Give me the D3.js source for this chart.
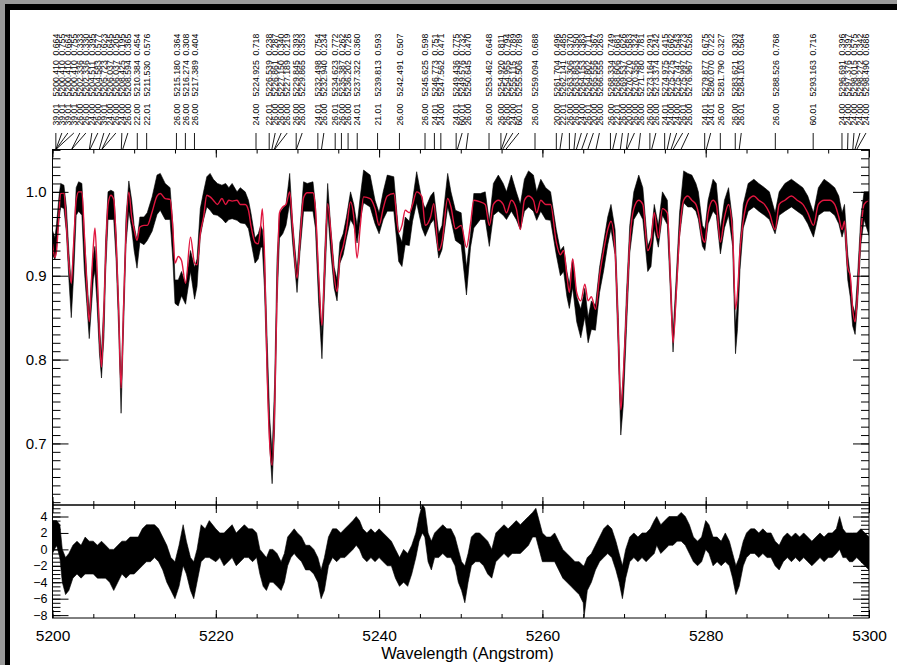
<!DOCTYPE html>
<html>
<head>
<meta charset="utf-8">
<script src="https://cdn.jsdelivr.net/npm/d3@7"></script>
<style>
  body { margin: 0; background: #ffffff; }
  svg { display: block; }
  text { font-family: "Liberation Sans", Arial, Helvetica, sans-serif; }
</style>
</head>
<body>
<svg id="chart" width="897" height="665"></svg>
<script>
// ---- Spectrum: node wavelengths (Angstrom) with synthetic model flux and the
// ---- lower / upper envelope of the noisy observed flux.
const wavelength = [
  5200.0,5200.3,5200.5,5200.8,5201.0,5201.4,5201.7,5202.0,5202.3,5202.6,
  5202.9,5203.2,5203.6,5203.9,5204.2,5204.5,5204.8,5205.0,5205.2,5205.45,
  5205.75,5206.0,5206.3,5206.5,5206.8,5207.15,5207.5,5207.8,5208.1,5208.4,
  5208.7,5209.0,5209.35,5209.7,5210.0,5210.35,5210.7,5211.2,5211.6,5212.2,
  5212.8,5213.2,5213.8,5214.4,5214.75,5215.0,5215.4,5215.8,5216.3,5216.9,
  5217.4,5217.7,5218.1,5218.5,5218.9,5219.3,5219.7,5220.2,5220.75,5221.2,
  5221.6,5222.0,5222.6,5223.0,5223.6,5224.0,5224.3,5224.8,5225.2,5225.5,
  5225.7,5225.95,5226.3,5226.6,5226.9,5227.2,5227.5,5227.8,5228.2,5228.6,
  5229.05,5229.4,5229.95,5230.3,5230.75,5231.2,5231.9,5232.2,5232.6,5233.0,
  5233.3,5233.7,5234.1,5234.5,5234.85,5235.2,5235.6,5236.0,5236.5,5236.9,
  5237.3,5237.7,5238.1,5238.9,5239.5,5240.0,5240.5,5241.0,5241.8,5242.4,
  5242.8,5243.2,5243.7,5244.1,5244.6,5245.25,5245.65,5246.3,5246.7,5247.3,
  5247.7,5248.4,5248.8,5249.35,5250.05,5250.7,5251.2,5251.6,5252.4,5253.0,
  5253.5,5254.0,5254.6,5255.2,5255.6,5256.2,5256.8,5257.3,5257.8,5258.3,
  5258.9,5259.3,5259.8,5260.4,5261.0,5261.7,5262.2,5262.6,5263.0,5263.3,
  5263.7,5264.2,5264.7,5265.2,5265.6,5266.0,5266.5,5267.0,5267.5,5268.0,
  5268.4,5268.9,5269.3,5269.6,5269.9,5270.3,5270.7,5271.2,5271.8,5272.3,
  5272.9,5273.3,5273.7,5274.2,5274.7,5275.3,5275.7,5276.0,5276.4,5276.8,
  5277.3,5277.8,5278.3,5278.8,5279.1,5279.6,5279.9,5280.3,5280.9,5281.3,
  5281.8,5282.3,5282.8,5283.3,5283.65,5283.9,5284.2,5284.6,5285.2,5285.9,
  5286.5,5287.2,5287.8,5288.5,5289.0,5289.7,5290.5,5291.2,5291.9,5292.5,
  5293.2,5293.8,5294.5,5295.2,5295.8,5296.3,5296.7,5297.0,5297.4,5297.7,
  5298.0,5298.3,5298.6,5299.0,5299.4,5300.0
];
const modelFlux = [
  0.938,0.922,0.930,0.975,0.998,0.999,0.960,0.915,0.891,0.940,
  0.990,1.000,1.000,0.950,0.890,0.845,0.900,0.935,0.957,0.910,
  0.830,0.791,0.860,0.920,0.985,0.996,0.991,0.940,0.860,0.766,
  0.860,0.950,1.000,0.970,0.955,0.942,0.958,0.960,0.960,0.976,
  0.995,0.998,0.992,0.991,0.955,0.915,0.923,0.918,0.891,0.946,
  0.915,0.913,0.950,0.970,0.996,0.994,0.990,0.985,0.992,0.985,
  0.990,0.989,0.990,0.985,0.985,0.978,0.960,0.940,0.938,0.960,
  0.980,0.930,0.780,0.700,0.674,0.740,0.880,0.975,0.982,0.985,
  1.000,0.960,0.897,0.940,0.993,0.999,0.999,0.980,0.900,0.841,
  0.900,0.986,0.950,0.900,0.881,0.920,0.935,0.955,0.988,0.970,
  0.921,0.960,0.994,0.992,0.980,0.960,0.980,0.995,0.998,0.952,
  0.960,0.978,0.975,0.985,1.000,0.994,0.960,0.970,0.986,0.930,
  0.940,0.992,0.982,0.956,0.960,0.934,0.962,0.990,0.988,0.985,
  0.960,0.985,0.990,0.985,0.975,0.990,0.980,0.955,0.990,0.995,
  0.990,0.975,0.990,0.985,0.985,0.940,0.925,0.930,0.900,0.880,
  0.920,0.880,0.870,0.890,0.870,0.875,0.860,0.900,0.930,0.955,
  0.965,0.930,0.830,0.740,0.780,0.860,0.940,0.980,0.990,0.985,
  0.930,0.940,0.975,0.945,0.980,0.975,0.890,0.820,0.880,0.950,
  0.990,0.995,0.990,0.985,0.975,0.945,0.940,0.975,0.990,0.985,
  0.940,0.970,0.985,0.950,0.860,0.880,0.930,0.965,0.990,0.995,
  0.990,0.985,0.975,0.955,0.985,0.990,0.995,0.990,0.985,0.975,
  0.960,0.985,0.990,0.990,0.985,0.970,0.955,0.965,0.910,0.900,
  0.860,0.845,0.880,0.950,0.985,0.990
];
const obsLow = [
  0.925,0.919,0.934,0.967,0.982,0.980,0.952,0.897,0.850,0.902,
  0.972,0.977,0.972,0.907,0.867,0.825,0.867,0.896,0.906,0.867,
  0.807,0.778,0.827,0.902,0.967,0.967,0.967,0.917,0.837,0.736,
  0.837,0.937,0.977,0.956,0.930,0.909,0.940,0.937,0.942,0.953,
  0.973,0.978,0.967,0.967,0.917,0.867,0.864,0.876,0.866,0.905,
  0.872,0.887,0.947,0.967,0.982,0.978,0.973,0.972,0.968,0.963,
  0.967,0.968,0.966,0.963,0.962,0.956,0.941,0.915,0.920,0.934,
  0.934,0.887,0.777,0.697,0.652,0.717,0.867,0.945,0.950,0.960,
  0.987,0.940,0.880,0.927,0.977,0.977,0.977,0.957,0.867,0.801,
  0.877,0.977,0.926,0.885,0.870,0.915,0.925,0.945,0.967,0.960,
  0.939,0.967,0.987,0.982,0.962,0.950,0.967,0.977,0.977,0.917,
  0.911,0.937,0.936,0.965,0.987,0.957,0.947,0.962,0.967,0.921,
  0.931,0.982,0.967,0.942,0.937,0.877,0.934,0.957,0.967,0.967,
  0.935,0.972,0.977,0.972,0.967,0.977,0.967,0.955,0.977,0.982,
  0.977,0.966,0.977,0.967,0.966,0.925,0.900,0.905,0.875,0.861,
  0.886,0.845,0.826,0.851,0.820,0.836,0.835,0.880,0.906,0.937,
  0.956,0.925,0.807,0.710,0.745,0.837,0.927,0.967,0.977,0.967,
  0.905,0.911,0.956,0.934,0.972,0.961,0.875,0.809,0.877,0.947,
  0.987,0.982,0.982,0.977,0.967,0.935,0.930,0.962,0.977,0.972,
  0.926,0.957,0.972,0.935,0.807,0.837,0.907,0.957,0.977,0.982,
  0.977,0.972,0.967,0.950,0.972,0.977,0.982,0.977,0.972,0.962,
  0.946,0.972,0.977,0.977,0.972,0.962,0.946,0.957,0.895,0.875,
  0.840,0.830,0.867,0.937,0.967,0.948
];
const obsHigh = [
  0.954,0.945,0.962,0.995,1.010,1.008,0.982,0.930,0.887,0.940,
  1.005,1.012,1.010,0.950,0.900,0.855,0.900,0.925,0.935,0.900,
  0.840,0.806,0.870,0.940,1.000,1.002,1.000,0.950,0.870,0.768,
  0.870,0.970,1.013,0.990,0.960,0.942,0.970,0.970,0.975,0.994,
  1.020,1.022,1.010,1.005,0.960,0.895,0.895,0.905,0.890,0.930,
  0.910,0.920,0.980,1.000,1.018,1.022,1.015,1.010,1.008,1.010,
  1.005,1.010,1.000,1.005,1.000,0.990,0.975,0.945,0.950,0.960,
  0.955,0.930,0.820,0.730,0.688,0.770,0.920,0.975,0.980,0.985,
  1.022,0.965,0.905,0.955,1.012,1.010,1.012,0.985,0.900,0.830,
  0.920,1.010,0.955,0.910,0.895,0.940,0.950,0.970,1.000,0.985,
  0.960,0.995,1.026,1.020,0.990,0.975,1.000,1.020,1.018,0.950,
  0.940,0.970,0.965,0.990,1.024,0.990,0.980,0.995,1.000,0.950,
  0.960,1.022,1.000,0.978,0.975,0.910,0.950,0.998,0.998,1.000,
  0.965,1.010,1.020,1.010,1.000,1.020,1.000,0.985,1.015,1.025,
  1.020,1.000,1.015,1.005,1.000,0.955,0.930,0.935,0.905,0.890,
  0.920,0.875,0.860,0.885,0.850,0.870,0.865,0.910,0.940,0.970,
  0.985,0.955,0.850,0.740,0.780,0.880,0.960,1.000,1.020,1.005,
  0.935,0.945,0.985,0.960,1.000,0.990,0.900,0.830,0.900,0.975,
  1.025,1.022,1.020,1.010,1.000,0.960,0.955,0.990,1.015,1.010,
  0.955,0.990,1.005,0.965,0.840,0.870,0.940,0.985,1.010,1.015,
  1.010,1.005,1.000,0.975,1.000,1.010,1.015,1.010,1.005,0.995,
  0.975,1.005,1.015,1.010,1.005,0.995,0.975,0.985,0.925,0.900,
  0.865,0.855,0.900,0.970,1.000,1.000
];

// ---- Residuals (observed - model), lower / upper envelope.
const residWave = [
  5200.0,5200.5,5200.9,5201.2,5201.6,5202.0,5202.5,5203.0,5203.5,5204.0,
  5204.5,5205.0,5205.5,5206.0,5206.5,5207.0,5207.5,5208.0,5208.5,5209.0,
  5209.5,5210.0,5210.5,5211.0,5211.5,5212.0,5212.5,5213.0,5213.5,5214.0,
  5214.5,5215.0,5215.5,5216.0,5216.4,5216.9,5217.3,5217.7,5218.2,5218.7,
  5219.2,5220.0,5220.5,5221.0,5221.5,5222.0,5222.5,5223.0,5223.5,5224.0,
  5224.5,5225.0,5225.4,5225.8,5226.2,5226.6,5227.0,5227.5,5228.0,5228.4,
  5228.8,5229.2,5229.6,5230.0,5230.5,5231.0,5231.5,5232.0,5232.5,5232.9,
  5233.3,5233.8,5234.3,5234.8,5235.3,5235.8,5236.3,5236.8,5237.2,5237.6,
  5238.0,5238.5,5239.0,5239.5,5240.0,5240.5,5241.0,5241.5,5242.0,5242.5,
  5243.0,5243.5,5244.0,5244.5,5244.9,5245.3,5245.6,5246.0,5246.4,5246.8,
  5247.3,5247.8,5248.3,5248.8,5249.3,5249.7,5250.1,5250.5,5250.9,5251.3,
  5251.8,5252.3,5252.8,5253.3,5253.8,5254.3,5254.8,5255.3,5255.8,5256.3,
  5256.8,5257.3,5257.8,5258.3,5258.8,5259.2,5259.6,5260.0,5260.5,5261.0,
  5261.5,5262.0,5262.5,5263.0,5263.5,5264.0,5264.5,5265.0,5265.1,5265.5,
  5266.0,5266.5,5267.0,5267.5,5268.0,5268.5,5269.0,5269.4,5269.8,5270.2,
  5270.7,5271.2,5271.7,5272.2,5272.7,5273.2,5273.7,5274.0,5274.5,5275.0,
  5275.5,5276.0,5276.5,5277.0,5277.5,5278.0,5278.5,5279.0,5279.5,5280.0,
  5280.4,5280.9,5281.4,5281.9,5282.4,5282.9,5283.3,5283.7,5284.1,5284.6,
  5285.0,5285.5,5286.0,5286.5,5287.0,5287.5,5288.0,5288.5,5289.0,5289.5,
  5290.0,5290.5,5291.0,5291.5,5292.0,5292.5,5293.0,5293.5,5294.0,5294.5,
  5295.0,5295.5,5296.0,5296.4,5296.8,5297.2,5297.6,5298.0,5298.5,5299.0,
  5299.5,5300.0
];
const residLow = [
  -0.5,0.5,-1.0,-4.0,-5.5,-5.0,-3.5,-3.0,-3.5,-3.0,
  -3.0,-3.0,-3.5,-3.5,-3.5,-4.0,-5.0,-4.0,-3.0,-3.5,
  -3.0,-3.0,-2.5,-2.0,-1.5,-1.5,-1.0,-1.5,-2.5,-4.0,
  -5.0,-6.0,-4.5,-2.0,-3.0,-5.0,-6.0,-4.0,-1.5,-1.0,
  -1.0,-1.5,-1.0,-2.0,-1.5,-1.0,-2.0,-1.5,-1.0,-1.0,
  -1.5,-1.0,-3.0,-4.5,-5.0,-4.0,-4.0,-4.5,-5.0,-4.0,
  -2.0,-1.0,-0.5,-1.0,-1.5,-2.5,-2.5,-3.0,-4.0,-6.0,
  -5.0,-2.0,-1.0,-1.5,-1.0,-1.0,-0.5,0.0,0.5,0.0,
  -1.0,-1.5,-1.0,-1.5,-1.0,-1.5,-2.0,-2.0,-3.5,-4.5,
  -4.0,-4.5,-3.0,-1.0,1.0,2.0,1.5,-1.5,-2.5,-1.0,
  -1.0,-0.5,-1.0,-1.0,-2.0,-4.0,-5.0,-6.5,-4.0,-2.0,
  -1.5,-1.5,-2.0,-3.0,-3.5,-1.5,-1.0,-0.5,-1.0,-0.5,
  -0.5,-0.5,0.0,0.5,1.5,1.5,0.0,-1.5,-1.5,-1.5,
  -1.5,-2.5,-3.5,-4.0,-4.5,-5.0,-5.5,-6.5,-8.3,-5.0,
  -4.0,-2.5,-1.5,-1.0,-0.5,-1.0,-2.5,-4.0,-6.0,-3.5,
  -1.5,-1.0,-1.5,-1.0,-1.5,-1.0,-0.5,0.5,-0.5,0.0,
  0.5,0.5,1.0,1.0,0.5,-0.5,-1.5,-2.0,-1.5,0.0,
  -0.5,-2.0,-1.5,-2.0,-1.5,-2.0,-3.5,-5.5,-4.5,-2.0,
  -1.0,-0.5,-0.5,-1.0,-0.5,-1.0,-1.0,-2.0,-2.5,-1.5,
  -1.0,-1.5,-1.0,-1.5,-1.0,-1.5,-2.0,-1.5,-1.0,-1.5,
  -1.0,-1.0,-0.5,0.0,-1.0,-1.0,-1.5,-1.5,-1.0,-1.5,
  -2.0,-2.5
];
const residHigh = [
  3.5,3.5,3.0,0.0,-1.0,-0.5,0.5,1.0,0.5,1.5,
  1.0,1.0,0.5,1.0,0.5,0.0,0.0,0.5,1.0,1.0,
  1.5,1.5,1.5,2.5,3.0,3.0,3.0,2.5,1.5,0.5,
  -1.0,-1.5,0.5,3.0,1.0,-1.0,-1.5,0.0,3.0,2.5,
  3.5,2.5,2.0,2.0,2.5,3.0,2.0,2.5,3.0,2.5,
  2.5,2.0,0.0,-0.5,-1.0,0.0,0.0,-0.5,-1.5,-0.5,
  1.5,2.0,2.5,2.0,1.5,0.5,0.5,0.0,-1.0,-2.5,
  -1.0,1.5,2.5,2.5,2.0,2.5,3.0,3.5,4.0,3.5,
  2.5,2.0,2.5,2.0,2.5,2.0,1.5,1.0,0.0,-1.0,
  0.0,-0.5,0.5,2.0,4.0,5.5,5.0,2.0,1.0,2.0,
  2.5,3.0,2.5,2.5,1.5,0.0,-1.5,-2.0,-0.5,1.5,
  2.0,2.0,1.5,1.0,0.0,2.0,2.5,3.0,2.5,3.0,
  3.5,3.0,3.5,4.0,4.5,5.0,3.5,2.0,1.5,1.5,
  2.0,1.0,0.0,-0.5,-1.0,-1.5,-1.5,-2.0,-2.0,-1.0,
  -0.5,0.5,1.5,2.5,3.0,2.5,1.0,-0.5,-2.0,0.0,
  1.5,2.0,1.5,2.0,2.0,2.5,3.5,4.0,3.0,3.5,
  4.0,4.0,4.0,4.5,4.0,3.0,1.5,1.0,1.5,3.5,
  3.0,1.5,1.5,1.0,2.0,1.0,-0.5,-2.0,-1.0,1.0,
  2.0,2.5,2.5,2.0,2.5,2.0,2.0,1.0,0.5,1.5,
  2.0,1.5,2.0,1.5,2.0,1.5,1.0,1.5,2.0,1.5,
  2.0,2.0,2.5,4.0,2.5,2.0,2.0,2.0,2.0,2.5,
  2.0,1.5
];

// ---- Line identifications: ion code, rest wavelength, strength.
const lineIon = [
  39.01,39.01,39.01,39.01,26.00,26.00,24.00,26.00,39.01,24.00,
  26.00,24.00,26.00,22.00,22.01,26.00,26.00,26.00,
  24.00,22.01,26.00,26.00,26.00,26.00,26.00,24.01,26.00,26.01,
  26.00,26.00,24.01,21.01,26.00,
  26.00,24.01,24.00,24.01,60.01,26.00,26.00,26.00,26.00,24.00,
  60.01,26.00,
  20.00,22.01,26.00,26.00,24.00,26.01,20.00,26.00,26.00,22.01,
  26.00,20.00,26.00,26.00,26.00,26.00,24.01,24.00,24.00,26.01,
  26.00,24.01,24.01,26.00,26.00,26.01,
  26.00,60.01,24.00,24.00,24.00,24.00,24.00
];
const lineWave = [
  5200.410,5200.410,5200.410,5200.410,5202.336,5202.336,5204.511,5204.583,5205.723,5206.037,
  5206.037,5208.425,5208.594,5210.384,5211.530,5215.180,5216.274,5217.389,
  5224.925,5226.539,5226.861,5227.150,5227.189,5229.845,5229.865,5232.498,5232.940,5234.623,
  5235.387,5236.202,5237.322,5239.813,5242.491,
  5245.625,5246.773,5247.562,5249.436,5249.576,5250.645,5253.462,5254.920,5254.955,5255.115,
  5255.506,5259.094,
  5261.704,5262.141,5263.306,5263.863,5264.153,5264.802,5265.556,5266.555,5268.334,5268.606,
  5269.537,5270.270,5270.356,5271.780,5273.164,5273.374,5274.975,5275.275,5275.747,5275.997,
  5276.967,5279.877,5280.070,5281.790,5283.621,5284.103,
  5288.526,5293.163,5296.691,5297.376,5298.015,5298.272,5298.490
];
const lineStrength = [
  0.664,0.755,0.664,0.755,0.333,0.330,0.395,0.577,0.623,0.645,
  0.205,0.195,0.365,0.454,0.576,0.364,0.308,0.404,
  0.718,0.238,0.287,0.340,0.219,0.393,0.353,0.754,0.234,0.772,
  0.262,0.726,0.360,0.593,0.507,
  0.598,0.751,0.471,0.775,0.732,0.470,0.648,0.811,0.794,0.789,
  0.789,0.688,
  0.496,0.485,0.370,0.350,0.383,0.711,0.367,0.263,0.749,0.681,
  0.626,0.583,0.324,0.781,0.291,0.242,0.415,0.662,0.543,0.273,
  0.526,0.675,0.722,0.327,0.303,0.564,
  0.768,0.716,0.396,0.397,0.575,0.342,0.686
];

// ---- Axis ticks.
const waveTicks = [5200, 5220, 5240, 5260, 5280, 5300];
const fluxTicks = [0.7, 0.8, 0.9, 1.0];
const residTicks = [-8, -6, -4, -2, 0, 2, 4];
const xTitle = "Wavelength (Angstrom)";

// ---- Layout.
const svg = d3.select("#chart");
const W = 897, H = 665;
const left = 52.5, right = 869;
const topY = 149.5, midY = 505, botY = 618;

const x = d3.scaleLinear().domain([5200, 5300]).range([left, right]);
const yFlux = d3.scaleLinear().domain([0.6266, 1.0505]).range([midY, topY]);
const yRes = d3.scaleLinear().domain([-8.35, 5.4]).range([botY, midY]);

// Window frame round the plot.
svg.append("rect").attr("x", 0).attr("y", 0).attr("width", W).attr("height", H).attr("fill", "#ffffff");
svg.append("rect").attr("x", 0).attr("y", 0).attr("width", W).attr("height", 4).attr("fill", "#9a9a9a");
svg.append("rect").attr("x", 0).attr("y", 0).attr("width", 5).attr("height", H).attr("fill", "#9a9a9a");
svg.append("rect").attr("x", 5).attr("y", 4).attr("width", W - 5).attr("height", 6).attr("fill", "#000000");
svg.append("rect").attr("x", 5).attr("y", 4).attr("width", 5).attr("height", H - 4).attr("fill", "#000000");

const defs = svg.append("defs");
defs.append("clipPath").attr("id", "clipTop")
  .append("rect").attr("x", left).attr("y", topY).attr("width", right - left).attr("height", midY - topY);
defs.append("clipPath").attr("id", "clipBot")
  .append("rect").attr("x", left).attr("y", midY).attr("width", right - left).attr("height", botY - midY);

// ---- Top panel: observed band and model.
const specIdx = d3.range(wavelength.length);
const obsArea = d3.area()
  .x(i => x(wavelength[i]))
  .y0(i => yFlux(obsLow[i]))
  .y1(i => yFlux(obsHigh[i]))
  .curve(d3.curveLinear);
const gTop = svg.append("g").attr("clip-path", "url(#clipTop)");
gTop.append("path").attr("d", obsArea(specIdx))
  .attr("fill", "#000").attr("stroke", "#000").attr("stroke-width", 0.6).attr("stroke-linejoin", "bevel");

const modelLine = d3.line()
  .x(i => x(wavelength[i]))
  .y(i => yFlux(modelFlux[i]))
  .curve(d3.curveMonotoneX);
gTop.append("path").attr("d", modelLine(specIdx))
  .attr("fill", "none").attr("stroke", "#e0163f").attr("stroke-width", 1.4);

// ---- Bottom panel: residual band.
const resIdx = d3.range(residWave.length);
const resArea = d3.area()
  .x(i => x(residWave[i]))
  .y0(i => yRes(residLow[i]))
  .y1(i => yRes(residHigh[i]));
svg.append("g").attr("clip-path", "url(#clipBot)")
  .append("path").attr("d", resArea(resIdx))
  .attr("fill", "#000").attr("stroke", "#000").attr("stroke-width", 0.6).attr("stroke-linejoin", "bevel");

// ---- Axes (ticks point into each panel).
function styleAxis(g, size) {
  g.select(".domain").remove();
  g.selectAll(".tick line").attr("stroke", "#000").attr("stroke-width", 1);
  g.selectAll(".tick text").attr("fill", "#000").style("font-size", size + "px");
}
const minorWave = d3.range(5200, 5300.1, 5);
const minorFlux = d3.range(63, 106).map(v => v / 100);
const minorRes = d3.range(-16, 11).map(v => v / 2);

function xAxes(y, gen) {
  svg.append("g").attr("transform", `translate(0,${y})`)
    .call(gen(x).tickValues(minorWave).tickSize(-4).tickFormat(""))
    .call(g => styleAxis(g, 10));
  svg.append("g").attr("transform", `translate(0,${y})`)
    .call(gen(x).tickValues(waveTicks).tickSize(-8).tickFormat(""))
    .call(g => styleAxis(g, 10));
}
xAxes(topY, d3.axisTop);
xAxes(midY, d3.axisBottom);
xAxes(midY, d3.axisTop);

// Bottom axis of the residual panel, with labels.
svg.append("g").attr("transform", `translate(0,${botY})`)
  .call(d3.axisBottom(x).tickValues(minorWave).tickSize(-4).tickFormat(""))
  .call(g => styleAxis(g, 10));
svg.append("g").attr("transform", `translate(0,${botY})`)
  .call(d3.axisBottom(x).tickValues(waveTicks).tickSize(-8).tickPadding(12).tickFormat(d3.format("d")))
  .call(g => styleAxis(g, 15.5));

// Flux axes.
svg.append("g").attr("transform", `translate(${left},0)`)
  .call(d3.axisLeft(yFlux).tickValues(minorFlux).tickSize(-8).tickFormat(""))
  .call(g => styleAxis(g, 10));
svg.append("g").attr("transform", `translate(${left},0)`)
  .call(d3.axisLeft(yFlux).tickValues(fluxTicks).tickSize(-16).tickPadding(6).tickFormat(d3.format(".1f")))
  .call(g => styleAxis(g, 15));
svg.append("g").attr("transform", `translate(${right},0)`)
  .call(d3.axisRight(yFlux).tickValues(minorFlux).tickSize(-8).tickFormat(""))
  .call(g => styleAxis(g, 10));
svg.append("g").attr("transform", `translate(${right},0)`)
  .call(d3.axisRight(yFlux).tickValues(fluxTicks).tickSize(-16).tickFormat(""))
  .call(g => styleAxis(g, 10));

// Residual axes.
svg.append("g").attr("transform", `translate(${left},0)`)
  .call(d3.axisLeft(yRes).tickValues(minorRes).tickSize(-8).tickFormat(""))
  .call(g => styleAxis(g, 10));
svg.append("g").attr("transform", `translate(${left},0)`)
  .call(d3.axisLeft(yRes).tickValues(residTicks).tickSize(-16).tickPadding(5)
    .tickFormat(d => d < 0 ? "\u2212" + Math.abs(d) : String(d)))
  .call(g => styleAxis(g, 12.5));
svg.append("g").attr("transform", `translate(${right},0)`)
  .call(d3.axisRight(yRes).tickValues(minorRes).tickSize(-8).tickFormat(""))
  .call(g => styleAxis(g, 10));
svg.append("g").attr("transform", `translate(${right},0)`)
  .call(d3.axisRight(yRes).tickValues(residTicks).tickSize(-16).tickFormat(""))
  .call(g => styleAxis(g, 10));

// Panel frames.
svg.append("rect").attr("x", left).attr("y", topY).attr("width", right - left).attr("height", midY - topY)
  .attr("fill", "none").attr("stroke", "#000").attr("stroke-width", 1);
svg.append("rect").attr("x", left).attr("y", midY).attr("width", right - left).attr("height", botY - midY)
  .attr("fill", "none").attr("stroke", "#000").attr("stroke-width", 1);

svg.append("text").attr("x", 467.5).attr("y", 658.5)
  .attr("text-anchor", "middle").style("font-size", "16.5px").attr("fill", "#000")
  .text(xTitle);

// ---- Line identification labels: pushed right so columns do not collide.
const labelGap = 6;
const labelX = [];
lineWave.forEach((w, i) => {
  const lx = x(w);
  labelX.push(i === 0 ? lx : Math.max(lx, labelX[i - 1] + labelGap));
});
const gIds = svg.append("g");
const fmtIon = d3.format(".2f"), fmtWave = d3.format(".3f"), fmtVal = d3.format(".3f");
lineWave.forEach((w, i) => {
  gIds.append("line")
    .attr("x1", labelX[i]).attr("y1", 133)
    .attr("x2", x(w)).attr("y2", topY)
    .attr("stroke", "#000").attr("stroke-width", 0.9);
  const bx = labelX[i] + 3.2;
  [[fmtIon(lineIon[i]), 125.5], [fmtWave(w), 96.5], [fmtVal(lineStrength[i]), 55.5]].forEach(([t, yb]) => {
    gIds.append("text")
      .attr("transform", `translate(${bx},${yb}) rotate(-90)`)
      .style("font-size", "8.7px").attr("fill", "#000")
      .text(t);
  });
});
</script>
</body>
</html>
